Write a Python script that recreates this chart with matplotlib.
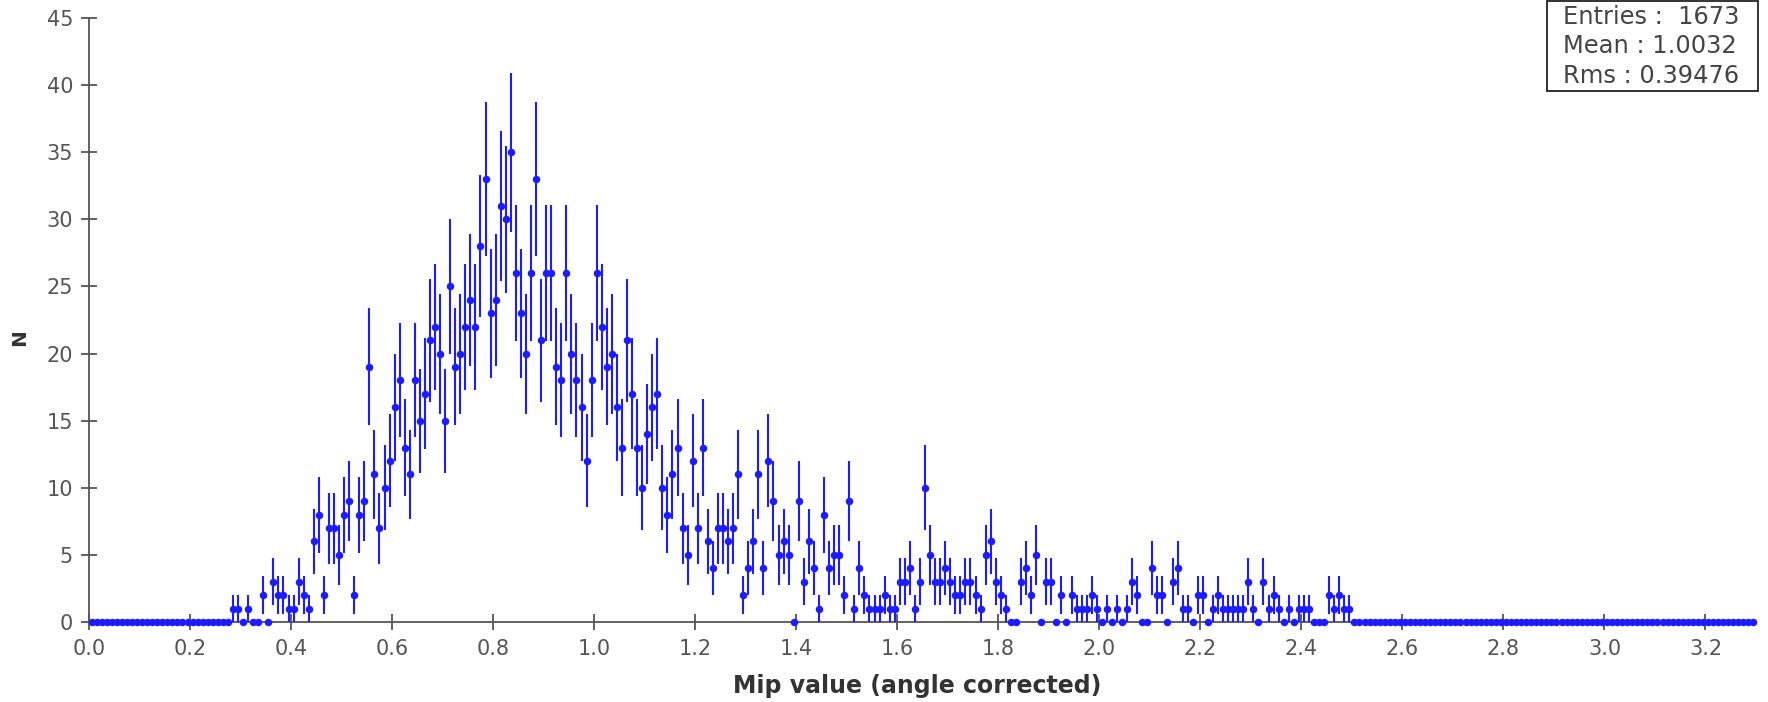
import numpy as np
import matplotlib
matplotlib.use("Agg")
import matplotlib.pyplot as plt
from matplotlib.patches import Rectangle

# ---- data ----
x_min, x_max, n_bins = 0.0, 3.3, 330
first_filled_edge = 0.28   # lower edge of first listed bin
counts_listed = [
    1, 1, 0, 1, 0, 0, 2, 0, 3, 2, 2, 1, 1, 3, 2, 1,                 # 0.28-0.44
    6, 8, 2, 7, 7, 5, 8, 9, 2, 8, 9, 19, 11, 7, 10, 12,             # 0.44-0.60
    16, 18, 13, 11, 18, 15, 17, 21, 22, 20, 15, 25, 19, 20, 22, 24, 22, 28, 33, 23,   # 0.60-0.80
    24, 31, 30, 35, 26, 23, 20, 26, 33, 21, 26, 26, 19, 18, 26, 20, 18, 16, 12, 18,   # 0.80-1.00
    26, 22, 19, 20, 16, 13, 21, 17, 13, 10, 14, 16, 17, 10, 8, 11, 13, 7, 5, 12,      # 1.00-1.20
    7, 13, 6, 4, 7, 7, 6, 7, 11, 2, 4, 6, 11, 4, 12, 9, 5, 6, 5, 0,                   # 1.20-1.40
    9, 3, 6, 4, 1, 8, 4, 5, 5, 2, 9, 1, 4, 2, 1, 1, 1, 2, 1, 1,                       # 1.40-1.60
    3, 3, 4, 1, 3, 10, 5, 3, 3, 4, 3, 2, 2, 3, 3, 2, 1, 5, 6, 3,                      # 1.60-1.80
    2, 1, 0, 0, 3, 4, 2, 5, 0, 3, 3, 0, 2, 0, 2, 1, 1, 1, 2, 1,                       # 1.80-2.00
    0, 1, 0, 1, 0, 1, 3, 2, 0, 0, 4, 2, 2, 0, 3, 4, 1, 1, 0, 2,                       # 2.00-2.20
    2, 0, 1, 2, 1, 1, 1, 1, 1, 3, 1, 0, 3, 1, 2, 1, 0, 1, 0, 1,                       # 2.20-2.40
    1, 1, 0, 0, 0, 2, 1, 2, 1, 1,                                                     # 2.40-2.50
]
x_ticks = [0.0, 0.2, 0.4, 0.6, 0.8, 1.0, 1.2, 1.4, 1.6, 1.8, 2.0, 2.2, 2.4, 2.6, 2.8, 3.0, 3.2]
y_ticks = [0, 5, 10, 15, 20, 25, 30, 35, 40, 45]
stats_lines = ["Entries :  1673", "Mean : 1.0032", "Rms : 0.39476"]
x_label = "Mip value (angle corrected)"
y_label = "N"

# ---- build histogram arrays ----
edges = np.linspace(x_min, x_max, n_bins + 1)
centers = 0.5 * (edges[:-1] + edges[1:])
width = edges[1] - edges[0]
counts = np.zeros(n_bins)
start = int(round((first_filled_edge - x_min) / width))
counts[start:start + len(counts_listed)] = counts_listed

# ---- figure ----
W, H = 1768, 702
fig = plt.figure(figsize=(W / 100, H / 100), dpi=100)
ax_l, ax_r, ax_t, ax_b = 89, 1756, 18, 622
ax = fig.add_axes([ax_l / W, 1 - ax_b / H, (ax_r - ax_l) / W, (ax_b - ax_t) / H])

blue = "#1c1cff"
# horizontal (bin width) bars
ax.errorbar(centers, counts, xerr=width / 2, fmt="none", ecolor=blue,
            elinewidth=2.4, capsize=0, zorder=3, clip_on=False)
# vertical statistical error bars + markers
ax.errorbar(centers, counts, yerr=np.sqrt(counts),
            fmt="o", color=blue, ecolor=blue, markersize=4.4, elinewidth=1.5,
            capsize=0, zorder=3, clip_on=False)

ax.set_xlim(x_min, x_max)
ax.set_ylim(0, 45)
ax.set_xticks(x_ticks)
ax.set_xticklabels([f"{t:.1f}" for t in x_ticks])
ax.set_yticks(y_ticks)

gray = "#555555"
for s in ["top", "right"]:
    ax.spines[s].set_visible(False)
for s in ["left", "bottom"]:
    ax.spines[s].set_color(gray)
    ax.spines[s].set_linewidth(1.3)
    ax.spines[s].set_zorder(2)
ax.tick_params(axis="both", direction="inout", length=11, width=1.3,
               color=gray, labelcolor=gray, labelsize=15)
ax.tick_params(axis="x", pad=7)
ax.tick_params(axis="y", pad=6)

fig.text(917 / W, 1 - 686 / H, x_label, ha="center", va="center",
         fontsize=17, fontweight="bold", color="#333333")
fig.text(20 / W, 1 - 338 / H, y_label, ha="center", va="center", rotation=90,
         fontsize=14.5, fontweight="bold", color="#333333")

# stats box
bx0, bx1, by0, by1 = 1547, 1758, 1, 91
fig.add_artist(Rectangle((bx0 / W, 1 - by1 / H), (bx1 - bx0) / W, (by1 - by0) / H,
                         transform=fig.transFigure, facecolor="white",
                         edgecolor="#222222", linewidth=1.3))
line_y = [17, 46, 76]
for line, yy in zip(stats_lines, line_y):
    fig.text(1563 / W, 1 - yy / H, line, ha="left", va="center", fontsize=17.4,
             color="#444444")

fig.savefig("out.png", dpi=100)
